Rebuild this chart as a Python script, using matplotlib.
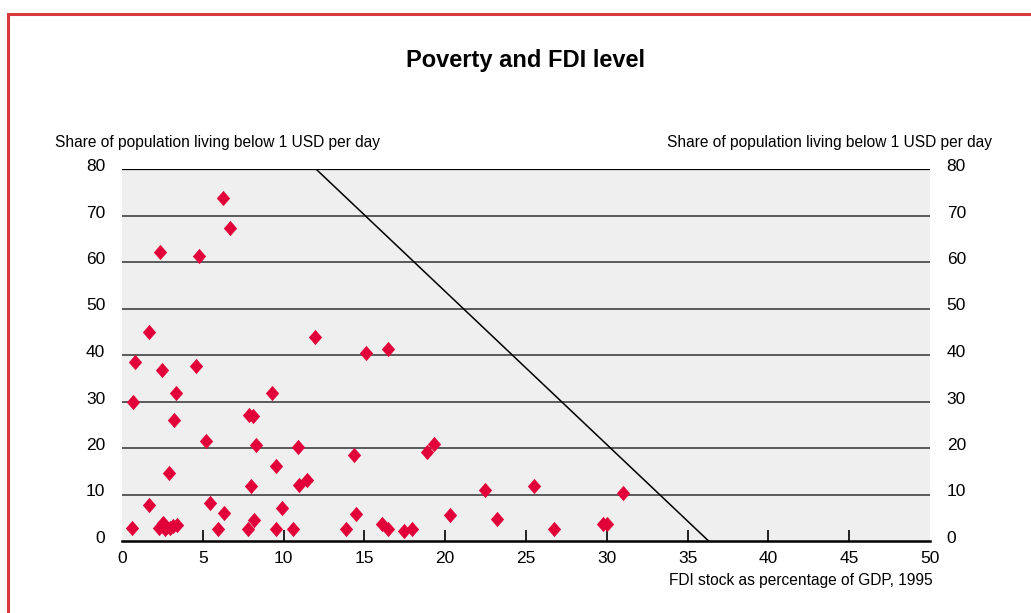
import matplotlib
matplotlib.use("Agg")
import matplotlib.pyplot as plt
import matplotlib.transforms as mtransforms
from matplotlib.patches import Rectangle

plt.rcParams['font.family'] = ['Liberation Sans', 'DejaVu Sans']

# FDI stock as % of GDP (1995) vs share of population below 1 USD/day
fdi = [0.6, 0.8, 0.66, 1.67, 1.67, 2.35, 2.5, 2.89, 3.2, 3.32,
       2.3, 2.55, 2.75, 2.95, 3.15, 3.4, 2.65,
       4.58, 4.78, 5.2, 5.43, 5.96, 6.29, 6.27, 6.68,
       7.84, 8.13, 7.98, 8.19, 7.82, 8.29, 9.3, 9.51, 9.53, 9.88,
       10.56, 10.9, 10.97, 11.43, 11.96, 13.86, 14.37, 14.5, 15.1,
       16.07, 16.46, 16.44, 17.47, 17.95, 18.87, 19.3, 20.32,
       22.46, 23.19, 25.51, 26.75, 29.79, 30.0, 30.98]
poverty = [2.7, 38.4, 29.9, 45.0, 7.7, 62.1, 36.8, 14.6, 26.1, 31.9,
           2.7, 3.8, 3.0, 2.7, 3.2, 3.4, 2.6,
           37.6, 61.2, 21.55, 8.07, 2.5, 5.98, 73.7, 67.4,
           27.2, 26.96, 11.75, 4.54, 2.5, 20.7, 31.8, 16.15, 2.5, 7.2,
           2.5, 20.2, 12.1, 13.1, 43.9, 2.6, 18.6, 5.84, 40.5,
           3.75, 41.3, 2.6, 2.16, 2.6, 19.24, 20.76, 5.62,
           10.95, 4.83, 11.9, 2.6, 3.75, 3.75, 10.24]

# reference line
line_x = [12.0, 36.3]
line_y = [80, 0]

xticks = [0, 5, 10, 15, 20, 25, 30, 35, 40, 45, 50]
yticks = [0, 10, 20, 30, 40, 50, 60, 70, 80]

fig = plt.figure(figsize=(10.31, 6.13), dpi=100)
ax = fig.add_axes([122/1031, 1 - 541/613, (930 - 122)/1031, (541 - 169)/613])
ax.set_facecolor('#efefef')

for y in yticks[1:-1]:
    ax.axhline(y, color='#333333', lw=1.1, zorder=1)
ax.axhline(80, color='black', lw=1.6, zorder=1)

ax.plot(line_x, line_y, color='black', lw=1.1, zorder=2)

diamond = [(0, 1), (0.87, 0), (0, -1), (-0.87, 0), (0, 1)]
ax.plot(fdi, poverty, linestyle='none', marker=diamond, markersize=11,
        color='#e2003a', markeredgewidth=0, zorder=3)

ax.set_xlim(0, 50)
ax.set_ylim(0, 80)
for s in ['top', 'left', 'right']:
    ax.spines[s].set_visible(False)
ax.spines['bottom'].set_linewidth(1.8)

ax.set_xticks(xticks)
ax.set_xticklabels([str(v) for v in xticks], fontsize=12.5)
ax.tick_params(axis='x', direction='in', length=8, width=1.2, pad=7)
tl = ax.xaxis.get_ticklines()
for t in [tl[0], tl[1], tl[-2], tl[-1]]:
    t.set_visible(False)

ax.set_yticks(yticks)
ax.set_yticklabels([str(v) for v in yticks], fontsize=12.5)
ax.tick_params(axis='y', length=0, pad=12, labelleft=True, labelright=True)
# labels sit slightly above their gridlines
up = mtransforms.ScaledTranslation(0, 4/100, fig.dpi_scale_trans)
for tick in ax.yaxis.get_major_ticks():
    tick.label1.set_transform(tick.label1.get_transform() + up)
    tick.label2.set_transform(tick.label2.get_transform() + up)

fig.text(525/1031, 1 - 60/613, 'Poverty and FDI level', ha='center', va='center',
         fontsize=17, fontweight='bold')
fig.text(55/1031, 1 - 143/613, 'Share of population living below 1 USD per day',
         ha='left', va='center', fontsize=11.2)
fig.text(992/1031, 1 - 143/613, 'Share of population living below 1 USD per day',
         ha='right', va='center', fontsize=11.2)
fig.text(933/1031, 1 - 580/613, 'FDI stock as percentage of GDP, 1995',
         ha='right', va='center', fontsize=11.2)

fig.patches.append(Rectangle((8/1031, -0.1), 1.2, 1 - 14/613 + 0.1,
                             transform=fig.transFigure, fill=False,
                             edgecolor='#d9393c', lw=2.2))

fig.savefig('out.png', dpi=100)
